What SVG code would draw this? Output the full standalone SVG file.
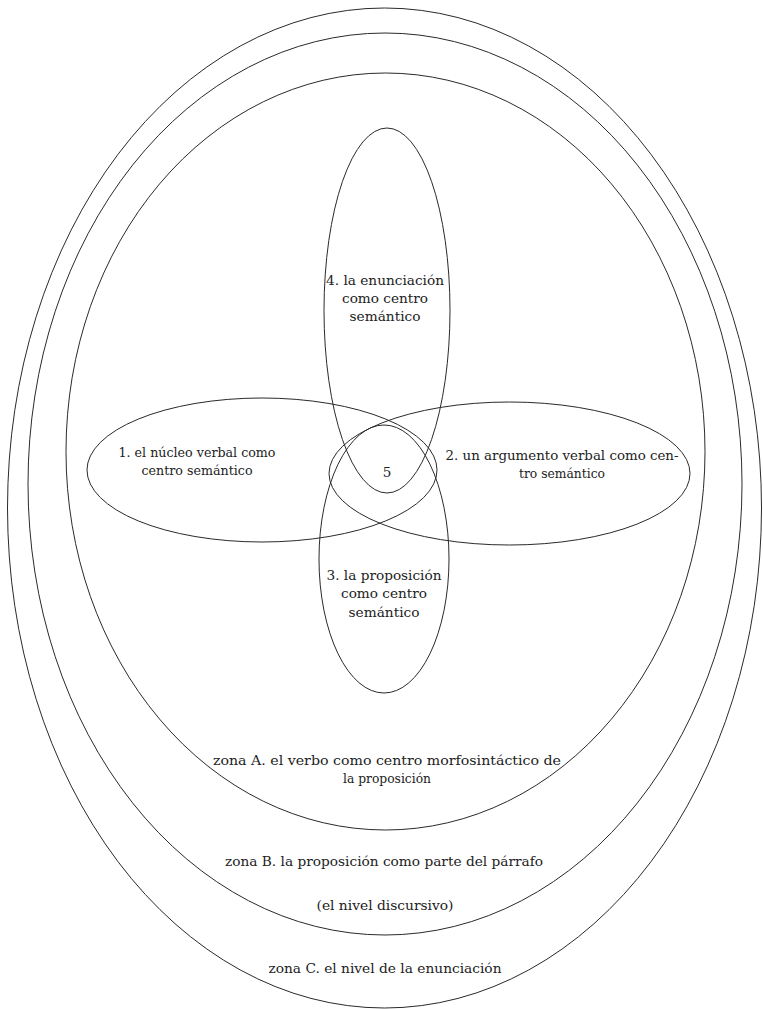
<svg xmlns="http://www.w3.org/2000/svg" width="763" height="1010" viewBox="0 0 763 1010">
<style>
.e{fill:none;stroke:#2a2a2a;stroke-width:1}
.t{font-family:'DejaVu Serif','Liberation Serif',serif;font-size:13.5px;fill:#222;text-anchor:middle}
</style>
<rect width="763" height="1010" fill="#fff"/>
<g id="zonaC"><ellipse class="e" cx="384.5" cy="508" rx="377" ry="500"/>
<text class="t" x="385" y="973" textLength="233" lengthAdjust="spacingAndGlyphs">zona C. el nivel de la enunciación</text></g>
<g id="zonaB"><ellipse class="e" cx="385" cy="484" rx="357" ry="451"/>
<text class="t" x="384" y="866" textLength="318" lengthAdjust="spacingAndGlyphs">zona B. la proposición como parte del párrafo</text>
<text class="t" x="385" y="910" textLength="137" lengthAdjust="spacingAndGlyphs">(el nivel discursivo)</text></g>
<g id="zonaA"><ellipse class="e" cx="385.5" cy="451.5" rx="319.5" ry="378.5"/>
<text class="t" x="387" y="765" textLength="348" lengthAdjust="spacingAndGlyphs">zona A. el verbo como centro morfosintáctico de</text>
<text class="t" x="387" y="783" textLength="88" lengthAdjust="spacingAndGlyphs">la proposición</text></g>
<g id="n1"><ellipse class="e" cx="262" cy="470" rx="175" ry="72"/>
<text class="t" x="197" y="457" textLength="157" lengthAdjust="spacingAndGlyphs">1. el núcleo verbal como</text>
<text class="t" x="197" y="475" textLength="111" lengthAdjust="spacingAndGlyphs">centro semántico</text></g>
<g id="n2"><ellipse class="e" cx="509.5" cy="473.5" rx="180.5" ry="71.5"/>
<text class="t" x="562" y="460" textLength="233" lengthAdjust="spacingAndGlyphs">2. un argumento verbal como cen-</text>
<text class="t" x="562" y="478" textLength="86" lengthAdjust="spacingAndGlyphs">tro semántico</text></g>
<g id="n4"><ellipse class="e" cx="387" cy="310.5" rx="63" ry="182.5"/>
<text class="t" x="385" y="285" textLength="118" lengthAdjust="spacingAndGlyphs">4. la enunciación</text>
<text class="t" x="385" y="303" textLength="86" lengthAdjust="spacingAndGlyphs">como centro</text>
<text class="t" x="385" y="321" textLength="71" lengthAdjust="spacingAndGlyphs">semántico</text></g>
<g id="n3"><ellipse class="e" cx="384" cy="559" rx="65" ry="134"/>
<text class="t" x="384" y="580" textLength="115" lengthAdjust="spacingAndGlyphs">3. la proposición</text>
<text class="t" x="384" y="598" textLength="86" lengthAdjust="spacingAndGlyphs">como centro</text>
<text class="t" x="384" y="617" textLength="71" lengthAdjust="spacingAndGlyphs">semántico</text></g>
<g id="n5"><text class="t" x="387" y="477">5</text></g>
<g id="connectors"></g>
</svg>
